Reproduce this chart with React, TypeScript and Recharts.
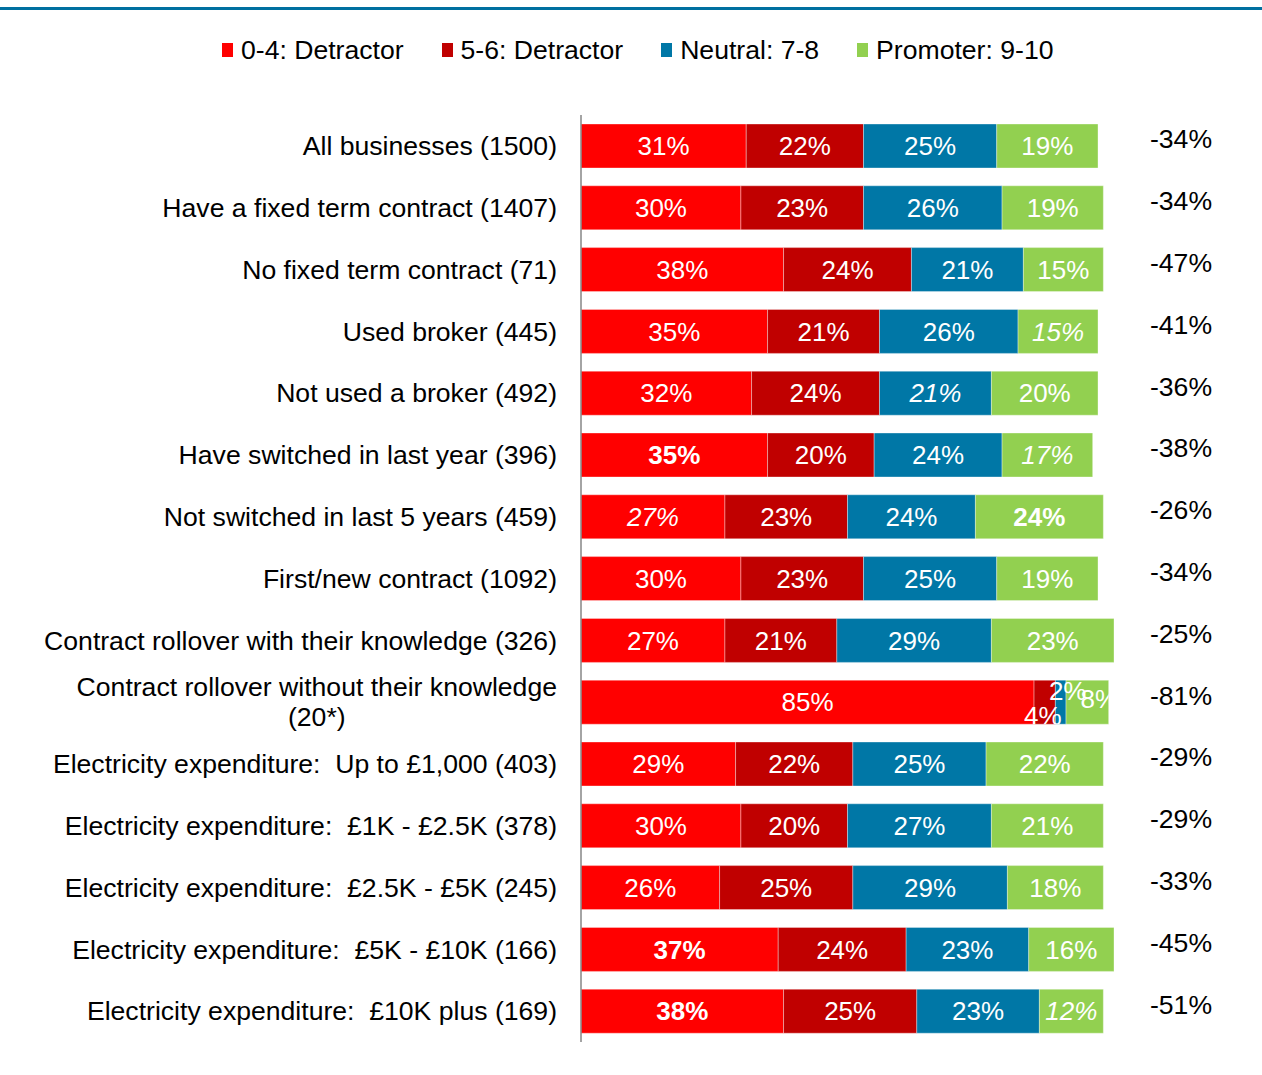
import { BarChart, Bar, XAxis, YAxis, LabelList } from 'recharts'

const FONT = '"Liberation Sans", Arial, sans-serif'
const TEXT_SIZE = 26.6

const categories = [
  'All businesses (1500)',
  'Have a fixed term contract (1407)',
  'No fixed term contract (71)',
  'Used broker (445)',
  'Not used a broker (492)',
  'Have switched in last year (396)',
  'Not switched in last 5 years (459)',
  'First/new contract (1092)',
  'Contract rollover with their knowledge (326)',
  'Contract rollover without their knowledge\n(20*)',
  'Electricity expenditure:  Up to £1,000 (403)',
  'Electricity expenditure:  £1K - £2.5K (378)',
  'Electricity expenditure:  £2.5K - £5K (245)',
  'Electricity expenditure:  £5K - £10K (166)',
  'Electricity expenditure:  £10K plus (169)',
]
const detractor04 = [31, 30, 38, 35, 32, 35, 27, 30, 27, 85, 29, 30, 26, 37, 38]
const detractor56 = [22, 23, 24, 21, 24, 20, 23, 23, 21, 4, 22, 20, 25, 24, 25]
const neutral = [25, 26, 21, 26, 21, 24, 24, 25, 29, 2, 25, 27, 29, 23, 23]
const promoter = [19, 19, 15, 15, 20, 17, 24, 19, 23, 8, 22, 21, 18, 16, 12]
const nps = [-34, -34, -47, -41, -36, -38, -26, -34, -25, -81, -29, -29, -33, -45, -51]

// label emphasis as in the source slide: [row, series]
const boldCells = [[5, 'd04'], [6, 'pro'], [13, 'd04'], [14, 'd04']]
const italicCells = [[3, 'pro'], [4, 'neu'], [5, 'pro'], [6, 'd04'], [14, 'pro']]

const data = categories.map((name, i) => ({
  name,
  d04: detractor04[i],
  d56: detractor56[i],
  neu: neutral[i],
  pro: promoter[i],
  nps: nps[i],
}))

const series = [
  { key: 'd04', label: '0-4: Detractor', color: '#FF0000', ndx: 0, ndy: 0 },
  { key: 'd56', label: '5-6: Detractor', color: '#C00000', ndx: -2, ndy: 14 },
  { key: 'neu', label: 'Neutral: 7-8', color: '#0077A6', ndx: 7, ndy: -11 },
  { key: 'pro', label: 'Promoter: 9-10', color: '#92D050', ndx: 12, ndy: -3 },
]

const has = (list: any[][], row: number, key: string) => list.some(([r, k]) => r === row && k === key)

let measureCtx: CanvasRenderingContext2D | null = null
function textWidth(s: string) {
  if (!measureCtx) {
    measureCtx = document.createElement('canvas').getContext('2d')
    if (measureCtx) measureCtx.font = `${TEXT_SIZE}px ${FONT}`
  }
  return measureCtx ? measureCtx.measureText(s).width : s.length * 12
}

function CategoryTick(props: any) {
  const { x, y, payload } = props
  const lines = String(payload.value).split('\n')
  const common = { fontSize: TEXT_SIZE, fontFamily: FONT, fill: '#000', style: { whiteSpace: 'pre' as const } }
  if (lines.length === 1) {
    return (
      <text x={x} y={y} dy="0.35em" textAnchor="end" {...common}>
        {lines[0]}
      </text>
    )
  }
  const w = textWidth(lines[0])
  return (
    <text {...common}>
      <tspan x={x} y={y - 15} dy="0.35em" textAnchor="end">{lines[0]}</tspan>
      <tspan x={x - w / 2} y={y + 15} dy="0.35em" textAnchor="middle">{lines[1]}</tspan>
    </text>
  )
}

function segmentLabel(s: typeof series[number], last: boolean) {
  return (props: any) => {
    const vb = props.viewBox ?? props
    const { x, y, width, height } = vb
    const { value, index } = props
    const narrow = value < 10
    const cx = x + width / 2 + (narrow ? s.ndx : 0)
    const cy = y + height / 2 + (narrow ? s.ndy : 0)
    const id = `clip-${s.key}-${index}`
    return (
      <g>
        {narrow && (
          <defs>
            <clipPath id={id}>
              <rect x={x - 200} y={y} width={last ? width + 200 : 600} height={height} />
            </clipPath>
          </defs>
        )}
        <text
          x={cx}
          y={cy}
          dy="0.35em"
          textAnchor="middle"
          fill="#fff"
          fontSize={26}
          fontFamily={FONT}
          fontWeight={has(boldCells, index, s.key) ? 'bold' : 'normal'}
          fontStyle={has(italicCells, index, s.key) ? 'italic' : 'normal'}
          clipPath={narrow ? `url(#${id})` : undefined}
        >
          {value}%
        </text>
      </g>
    )
  }
}

const NPS_X = 1181

function NpsLabel(props: any) {
  const vb = props.viewBox ?? props
  const { y, height } = vb
  return (
    <text x={NPS_X} y={y + height / 2 - 7} dy="0.35em" textAnchor="middle" fontSize={TEXT_SIZE} fontFamily={FONT} fill="#000">
      {props.value}%
    </text>
  )
}

export default function App() {
  return (
    <div style={{ position: 'absolute', left: 0, top: 0, width: 1262, height: 1075, background: '#fff', fontFamily: FONT }}>
      <div style={{ position: 'absolute', left: 0, top: 7, width: 1262, height: 3, background: '#0070A0' }} />
      <div style={{ position: 'absolute', left: 222, top: 33, display: 'flex', gap: 38, alignItems: 'center', fontSize: TEXT_SIZE, color: '#000', whiteSpace: 'nowrap' }}>
        {series.map((s) => (
          <div key={s.key} style={{ display: 'flex', alignItems: 'center' }}>
            <span style={{ display: 'inline-block', width: 11, height: 14, background: s.color, marginRight: 8 }} />
            <span style={{ lineHeight: '34px' }}>{s.label}</span>
          </div>
        ))}
      </div>
      <BarChart
        width={1262}
        height={1075}
        data={data}
        layout="vertical"
        margin={{ top: 115, right: 148, bottom: 33, left: 0 }}
        barSize={44}
      >
        <XAxis type="number" domain={[0, 100]} hide />
        <YAxis
          type="category"
          dataKey="name"
          width={581}
          interval={0}
          tickLine={false}
          tickSize={0}
          tickMargin={24}
          tick={<CategoryTick />}
          axisLine={{ stroke: '#868686', strokeWidth: 1.5 }}
        />
        {series.map((s, i) => (
          <Bar
            key={s.key}
            dataKey={s.key}
            stackId="a"
            fill={s.color}
            stroke="#ffffff"
            strokeOpacity={0.35}
            strokeWidth={1}
            isAnimationActive={false}
          >
            <LabelList dataKey={s.key} content={segmentLabel(s, i === series.length - 1)} />
            {i === series.length - 1 && <LabelList dataKey="nps" content={<NpsLabel />} />}
          </Bar>
        ))}
      </BarChart>
    </div>
  )
}
